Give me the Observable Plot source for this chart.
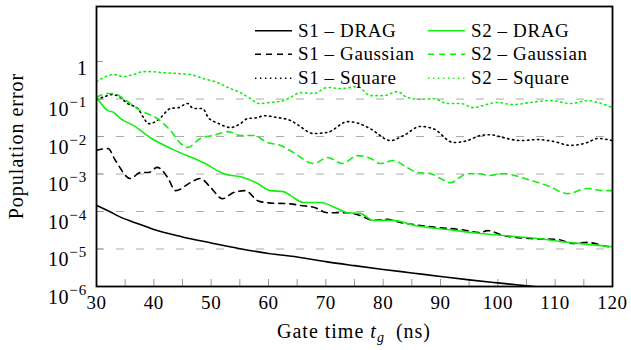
<!DOCTYPE html>
<html>
<head>
<meta charset="utf-8">
<script src="https://cdn.jsdelivr.net/npm/d3@7"></script>
<script src="https://cdn.jsdelivr.net/npm/@observablehq/plot@0.6"></script>
<style>
  html, body { margin: 0; padding: 0; background: white; }
  #chart svg, #chart svg text, #chart svg tspan { font-family: "Liberation Serif", "Times New Roman", "DejaVu Serif", serif !important; }
</style>
</head>
<body>
<div id="chart"></div>
<script>
// ---- data ----
const s1DragX = [30,32,34,36,38,40,45,50,55,60,65,70,75,80,85,90,95,100,105,110,115,120];
const s1DragY = [1.45e-4,1.05e-4,7.3e-5,5.5e-5,4.3e-5,3.3e-5,2.1e-5,1.45e-5,1.02e-5,7.6e-6,6.1e-6,4.6e-6,3.6e-6,2.85e-6,2.3e-6,1.85e-6,1.5e-6,1.25e-6,1.05e-6,8.8e-7,7.5e-7,6.4e-7];

const s1GaussX = [30,32,33.3,35.9,37.7,39.1,40.6,42.4,43.8,46.4,48.1,49.9,52,53.9,56,58.1,60,63.8,65.6,67.9,70.3,73.8,76,78.3,80.8,83,85.3,87.7,90,93.5,97,98.2,101,105.7,110.4,113.2,115.6,119.1,120];
const s1GaussY = [4.3e-3,4.8e-3,2.3e-3,7.6e-4,1.1e-3,1.1e-3,1.5e-3,8.1e-4,3.6e-4,5.9e-4,7.6e-4,4.4e-4,2.2e-4,3.2e-4,3.6e-4,1.95e-4,1.7e-4,1.6e-4,1.45e-4,1.3e-4,9.3e-5,9.3e-5,7.8e-5,5.8e-5,6.2e-5,5.1e-5,4.5e-5,4.0e-5,3.7e-5,3.3e-5,2.75e-5,3.1e-5,2.3e-5,1.9e-5,1.8e-5,1.4e-5,1.5e-5,1.17e-5,1.12e-5];

const s1SquareX = [30,31.9,32.8,34.2,35.4,37.2,38.2,39.1,40.3,41.2,42.9,44.3,45.9,46.9,48.5,49.5,51.1,53.4,55.1,56.3,58.1,59.1,61.6,63.8,65,67.9,70.3,73.8,75.5,77.8,81.3,83.6,86.5,88.8,92.3,94.7,97,98.7,101,104,106.9,109.7,112.7,115.6,117.4,120];
const s1SquareY = [0.095,0.123,0.132,0.11,0.076,0.056,0.032,0.022,0.025,0.032,0.056,0.059,0.076,0.056,0.056,0.032,0.023,0.0174,0.022,0.030,0.032,0.036,0.032,0.027,0.021,0.012,0.0129,0.025,0.023,0.016,7.8e-3,0.0107,0.0186,0.016,6.9e-3,7.8e-3,0.0107,0.0112,9.3e-3,7.8e-3,8.3e-3,7.4e-3,5.8e-3,6.9e-3,8.9e-3,7.8e-3];

const s2DragX = [30,32,33,34.2,36.5,39.4,43.5,48.7,52.2,55.6,58.1,60.3,62.6,63.8,66.1,69.1,72,73.8,76,78.3,81.8,85.3,91.2,97,101,106.9,112.7,120];
const s2DragY = [0.112,0.049,0.044,0.030,0.0195,0.0093,4.4e-3,2.0e-3,1.02e-3,8.1e-4,5.6e-4,3.6e-4,3.4e-4,2.7e-4,1.74e-4,1.74e-4,1.2e-4,9.3e-5,8.9e-5,5.8e-5,5.8e-5,4.3e-5,3.3e-5,2.6e-5,2.3e-5,1.9e-5,1.48e-5,1.15e-5];

const s2GaussX = [30,31.9,33,34.7,37.7,40.6,42.9,44.7,45.9,48.1,50.4,52.9,55.1,57.4,59.8,62.1,64.4,67.9,70.3,72.9,75.5,77.8,79.5,81.8,84.2,86,88.3,90,91.7,94.7,97,98.2,101,105.7,108.7,112.2,115.6,118.4,120];
const s2GaussY = [0.11,0.141,0.141,0.102,0.049,0.030,0.0145,6.5e-3,5.1e-3,8.9e-3,0.0107,0.0135,0.0107,0.0107,6.9e-3,5.8e-3,3.7e-3,1.9e-3,2.75e-3,1.9e-3,3.1e-3,2.6e-3,1.9e-3,2.3e-3,1.48e-3,1.1e-3,1.02e-3,7.6e-4,5.9e-4,1.02e-3,1.02e-3,9.1e-4,1.02e-3,6.8e-4,4.9e-4,3.0e-4,4.1e-4,3.6e-4,3.6e-4];

const s2SquareX = [30,31.2,33,34.7,36.5,38.2,39.4,41.2,44.1,46.4,48.7,51.1,52.9,55.1,56.9,58.3,60.3,62.6,63.8,65.6,67.9,70.3,72.6,75.5,77.8,80.1,82.5,84.2,86.5,88.8,91.2,93.5,95.8,97.5,99.9,102.7,105.7,109.2,112.7,115.6,117.4,120];
const s2SquareY = [0.29,0.37,0.45,0.40,0.45,0.54,0.54,0.51,0.48,0.45,0.35,0.275,0.204,0.148,0.102,0.076,0.081,0.091,0.11,0.148,0.141,0.204,0.19,0.214,0.123,0.123,0.158,0.11,0.098,0.102,0.076,0.076,0.059,0.068,0.081,0.071,0.081,0.091,0.076,0.091,0.081,0.059];

const seriesNames = ["S1 – DRAG","S1 – Gaussian","S1 – Square","S2 – DRAG","S2 – Gaussian","S2 – Square"];
const xTickLabels = [30,40,50,60,70,80,90,100,110,120];
const xMinorTicks = [30,35,40,45,50,55,60,65,70,75,80,85,90,95,100,105,110,115,120];
const yTicks = [1e-6,1e-5,1e-4,1e-3,1e-2,1e-1,1];
const yGrid = [1e-5,1e-4,1e-3,1e-2,1e-1];
const xLabel = "Gate time";
const yLabel = "Population error";

// ---- styles ----
const GREEN = "#10f010";
const styles = {
  "S1 – DRAG":     {stroke: "black", dash: null,       width: 1.6},
  "S1 – Gaussian": {stroke: "black", dash: "6,5",      width: 1.6},
  "S1 – Square":   {stroke: "black", dash: "1.4,3.6",  width: 1.6},
  "S2 – DRAG":     {stroke: GREEN,   dash: null,       width: 1.6},
  "S2 – Gaussian": {stroke: GREEN,   dash: "6,5",      width: 1.6},
  "S2 – Square":   {stroke: GREEN,   dash: "1.4,3.6",  width: 1.6}
};

const zip = (xs, ys) => xs.map((x, i) => ({x, y: ys[i]}));
const seriesData = {
  "S1 – DRAG": zip(s1DragX, s1DragY),
  "S1 – Gaussian": zip(s1GaussX, s1GaussY),
  "S1 – Square": zip(s1SquareX, s1SquareY),
  "S2 – DRAG": zip(s2DragX, s2DragY),
  "S2 – Gaussian": zip(s2GaussX, s2GaussY),
  "S2 – Square": zip(s2SquareX, s2SquareY)
};

const W = 631, H = 350;
const mL = 96, mR = 19, mT = 6, mB = 64;
const frameW = W - mL - mR, frameH = H - mT - mB;

const lineMarks = seriesNames.map(name => Plot.line(seriesData[name], {
  x: "x", y: "y",
  stroke: styles[name].stroke,
  strokeWidth: styles[name].width,
  strokeDasharray: styles[name].dash,
  curve: "monotone-x",
  clip: true
}));

const chart = Plot.plot({
  width: W, height: H,
  marginLeft: mL, marginRight: mR, marginTop: mT, marginBottom: mB,
  style: "font-family: 'Liberation Serif', serif; font-size: 19px; letter-spacing: 0.6px; color: black; background: white;",
  x: {domain: [30, 120]},
  y: {type: "log", domain: [1e-6, 29.4]},
  marks: [
    Plot.ruleY(yGrid, {y: d => d, stroke: "#aaaaaa", strokeWidth: 1, strokeDasharray: "8,12"}),
    Plot.tickX(xMinorTicks, {x: d => d, stroke: "#999", strokeWidth: 1, insetTop: frameH - 7}),
    Plot.tickY(yTicks, {y: d => d, stroke: "#999", strokeWidth: 1, insetRight: frameW - 7}),
    ...lineMarks,
    Plot.axisX({ticks: xTickLabels, tickSize: 0, tickPadding: 9, label: null, fontSize: 19, tickFormat: d => String(d)}),
    Plot.axisY({ticks: yTicks, tickSize: 0, tickPadding: 9, label: null, fontSize: 20,
      tickFormat: d => d === 1 ? "1" : "10^" + Math.round(Math.log10(d))}),
    Plot.frame({stroke: "black", strokeWidth: 1.8})
  ]
});

const svg = d3.select(chart);
svg.attr("font-family", "Liberation Serif");

// superscript tick labels
svg.selectAll('g[aria-label="y-axis tick label"] text').each(function() {
  const t = d3.select(this);
  const s = t.text();
  if (s.startsWith("10^")) {
    const exp = s.slice(3).replace("-", "\u2212");
    t.text("");
    t.attr("dy", "0.53em");
    t.append("tspan").text("10");
    t.append("tspan").attr("dy", "-9").attr("font-size", "15px").style("letter-spacing", "1.2px").text(exp);
  } else {
    t.attr("dy", "0.36em");
  }
});

// axis labels
const xl = svg.append("text")
  .attr("x", mL + frameW / 2).attr("y", 338)
  .attr("text-anchor", "middle")
  .attr("font-size", "20px").attr("fill", "black")
  .style("letter-spacing", "1px");
xl.append("tspan").text(xLabel + " ");
xl.append("tspan").attr("font-style", "italic").text("t");
xl.append("tspan").attr("font-style", "italic").attr("font-size", "14px").attr("dy", "4").text("g");
xl.append("tspan").attr("dy", "-4").text("\u2002(ns)");

svg.append("text")
  .attr("transform", `translate(23,${mT + frameH / 2}) rotate(-90)`)
  .attr("text-anchor", "middle")
  .attr("font-size", "20px").attr("fill", "black")
  .style("letter-spacing", "1px")
  .text(yLabel);

// legend
const legend = svg.append("g").attr("aria-label", "legend").attr("text-anchor", "start").attr("font-size", "19px");
const rowsY = [30.7, 54.3, 78.3];
const colLineX = [255, 428];
const colTextX = [298, 471];
seriesNames.forEach((name, i) => {
  const col = i < 3 ? 0 : 1, row = i % 3;
  const st = styles[name];
  legend.append("line")
    .attr("x1", colLineX[col]).attr("x2", colLineX[col] + 37)
    .attr("y1", rowsY[row]).attr("y2", rowsY[row])
    .attr("stroke", st.stroke).attr("stroke-width", st.width)
    .attr("stroke-dasharray", st.dash);
  legend.append("text")
    .attr("x", colTextX[col]).attr("y", rowsY[row] + 6)
    .attr("text-anchor", "start")
    .attr("fill", "black")
    .text(name);
});

document.getElementById("chart").appendChild(chart);
</script>
</body>
</html>
